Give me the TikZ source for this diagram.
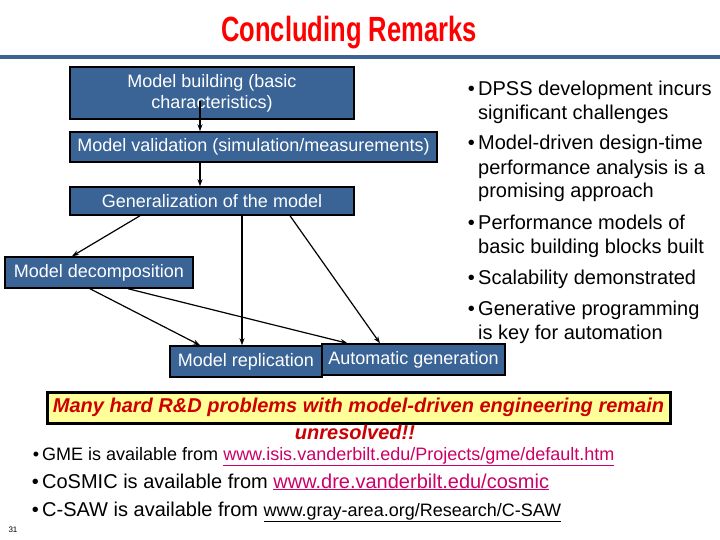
\documentclass[tikz,border=0pt]{standalone}
\usepackage{fontspec}
\setmainfont{Liberation Sans}
\usetikzlibrary{arrows.meta}
\definecolor{boxblue}{RGB}{58,99,150}
\definecolor{rulebl}{RGB}{61,100,145}
\definecolor{linkpink}{RGB}{204,0,102}
\definecolor{warnred}{RGB}{204,0,0}
\definecolor{noteyel}{RGB}{255,255,153}

\begin{document}
\begin{tikzpicture}[x=1pt, y=-1pt,
        block/.style={rectangle, draw=black, line width=1.5pt, fill=boxblue, text=white,
            font=\fontsize{18}{21}\selectfont, inner sep=0pt, align=center},
        item/.style={anchor=base west, align=left, inner sep=0pt, font=\fontsize{20}{24}\selectfont},
        link/.style={anchor=base west, inner sep=0pt},
        >={Stealth[length=7pt, width=5pt]}
    ]
    \useasboundingbox (0,0) rectangle (720,540);

    \node[text=red, font=\fontsize{35}{35}\selectfont\bfseries] (title) at (349,33)
        {\scalebox{0.73}[1]{Concluding Remarks}};
    \draw[rulebl, line width=4pt] (0,57) -- (720,57);

    % flow of the modelling steps
    \node[block, minimum width=284pt, minimum height=52pt] (build) at (212,93) {Model building (basic\\characteristics)};
    \node[block, minimum width=367pt, minimum height=30pt] (valid) at (253.5,147) {Model validation (simulation/measurements)};
    \node[block, minimum width=284pt, minimum height=28pt] (gener) at (212,201) {Generalization of the model};
    \node[block, minimum width=188pt, minimum height=31pt] (decomp) at (99,272.5) {Model decomposition};
    \node[block, minimum width=152pt, minimum height=31pt] (repl) at (246,361.5) {Model replication};
    \node[block, minimum width=183pt, minimum height=31pt] (autogen) at (413.5,359.5) {Automatic generation};

    \draw[->, line width=1.2pt] ([xshift=-12pt, yshift=-8pt]build.center) -- ([xshift=-53.5pt]valid.north);
    \draw[->, line width=1.2pt] ([xshift=-53.5pt]valid.south) -- ([xshift=-12pt]gener.north);
    \draw[->, line width=1.2pt] ([xshift=-72pt]gener.south) -- ([xshift=-27pt]decomp.north);
    \draw[->, line width=1.2pt] ([xshift=30pt]gener.south) -- ([xshift=-4pt]repl.north);
    \draw[->, line width=1.2pt] ([xshift=78pt]gener.south) -- ([xshift=-33.5pt]autogen.north);
    \draw[->, line width=1.2pt] ([xshift=-9pt]decomp.south) -- ([xshift=-46pt]repl.north);
    \draw[->, line width=1.2pt] ([xshift=29pt]decomp.south) -- ([xshift=-66pt]autogen.north);

    % remarks on the right (base = last line)
    \node[item] (r1) at (478,120) {\llap{\textbullet\,}DPSS development incurs\\significant challenges};
    \node[item] (r2) at (478,198) {\llap{\textbullet\,}Model-driven design-time\\performance analysis is a\\promising approach};
    \node[item] (r3) at (478,253) {\llap{\textbullet\,}Performance models of\\basic building blocks built};
    \node[item] (r4) at (478,284) {\llap{\textbullet\,}Scalability demonstrated};
    \node[item] (r5) at (478,339) {\llap{\textbullet\,}Generative programming\\is key for automation};

    \node[draw=black, line width=3pt, fill=noteyel, minimum width=623pt, minimum height=31pt, inner sep=0pt,
        text=warnred, font=\fontsize{20}{22}\selectfont\bfseries\itshape] (note) at (358.5,407.5)
        {Many hard R\&D problems with model-driven engineering remain};
    \node[text=warnred, font=\fontsize{20}{22}\selectfont\bfseries\itshape] (unres) at (355,432) {unresolved!!};

    % where to get the tools
    \node[link, font=\fontsize{18}{20}\selectfont] (gme) at (42,460)
        {\llap{\textbullet\,}GME is available from \textcolor{linkpink}{\underline{www.isis.vanderbilt.edu/Projects/gme/default.htm}}};
    \node[link, font=\fontsize{20}{22}\selectfont] (cosmic) at (42,488)
        {\llap{\textbullet\,}CoSMIC is available from \textcolor{linkpink}{\underline{www.dre.vanderbilt.edu/cosmic}}};
    \node[link, font=\fontsize{20}{22}\selectfont] (csaw) at (42,516)
        {\llap{\textbullet\,}C-SAW is available from {\fontsize{18}{20}\selectfont\underline{www.gray-area.org/Research/C-SAW}}};
    \node[font=\fontsize{8}{9}\selectfont] (pgnum) at (13,530) {31};
\end{tikzpicture}
\end{document}
